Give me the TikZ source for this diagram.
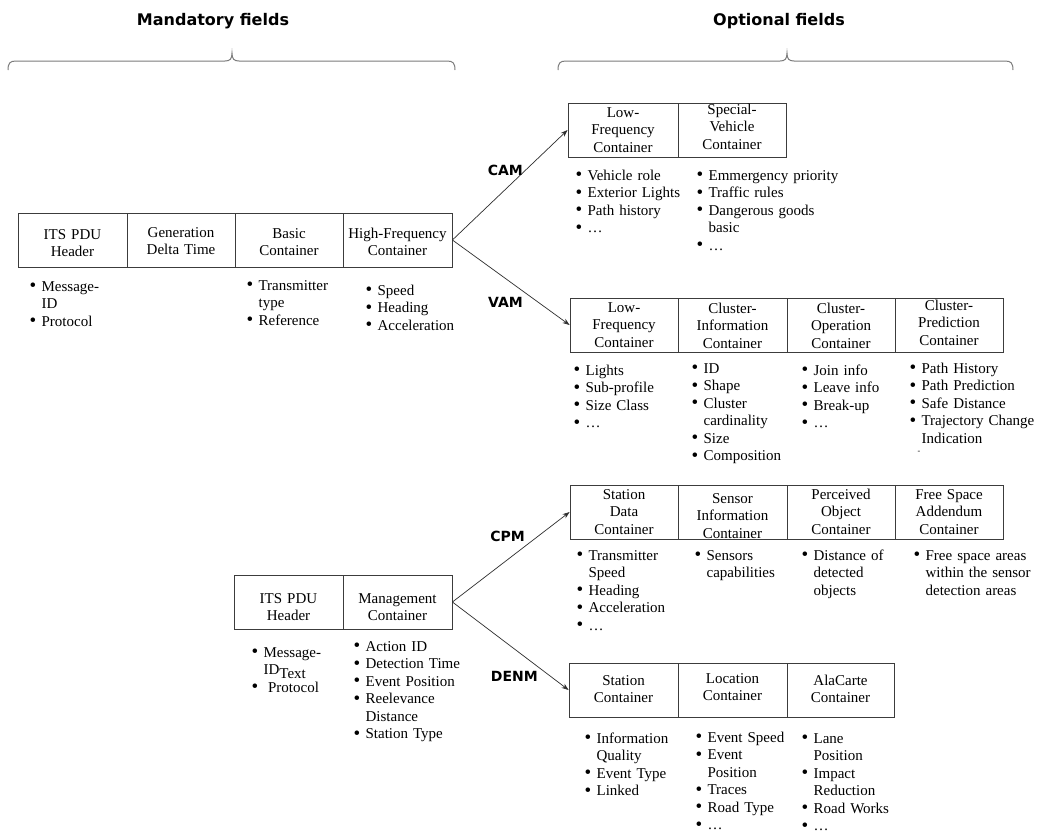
\documentclass[tikz,border=0pt]{standalone}
\usepackage{fontspec}
\setmainfont{Liberation Serif}
\newfontfamily\hdfont{DejaVu Sans}
\usetikzlibrary{arrows.meta}
\definecolor{boxgray}{HTML}{3C3C3C}
\definecolor{bracegray}{HTML}{7C7C7C}
\definecolor{arrowgray}{HTML}{2E2E2E}
\newcommand\bul{\raisebox{-0.6pt}{\fontsize{19}{17.5}\selectfont\textbullet}}
\newcommand\itm[1]{\hangindent=12pt\hangafter=1\rule{0pt}{12.25pt}\makebox[12pt][l]{\bul}#1\par}
\tikzset{
  bodyfont/.style={font=\fontsize{15}{17.5}\selectfont},
  cell/.style 2 args={draw=boxgray, line width=0.8pt, inner sep=0pt, align=center, bodyfont, text height=#1, text depth=#2},
  lst/.style={anchor=base west, inner sep=0pt, align=left, text width=#1, bodyfont},
  lst/.default=120pt,
  hd/.style={font=\hdfont\bfseries\fontsize{16}{19}\selectfont, inner sep=0pt, anchor=base},
  msg/.style={font=\hdfont\bfseries\fontsize{14}{17}\selectfont, inner sep=0pt, anchor=base east},
  arr/.style={draw=arrowgray, line width=0.7pt, -{Stealth[length=7pt,width=5pt]}},
  bracepath/.style={draw=bracegray, line width=1pt},
}
\begin{document}
\begin{tikzpicture}[x=1pt,y=-1pt]
\useasboundingbox (0,0) rectangle (1037,836);
\fill[white] (0,0) rectangle (1037,836);

% headers
\node[hd] (mand) at (213,25.5) {Mandatory fields};
\node[hd] (opt) at (779,25.5) {Optional fields};
\draw[bracepath] (8,70) .. controls (8,63) and (10,61) .. (16,61) -- (225,61)
  .. controls (230,61) and (232,59) .. (232,53) .. controls (232,59) and (234,61) .. (239,61)
  -- (447,61) .. controls (453,61) and (455,63) .. (455,70);
\draw[bracepath] (558,70) .. controls (558,63) and (560,61) .. (566,61) -- (780,61)
  .. controls (785,61) and (787,59) .. (787,53) .. controls (787,59) and (789,61) .. (794,61)
  -- (1005,61) .. controls (1011,61) and (1013,63) .. (1013,70);

% CAM / VAM common header row
\node[cell={26pt}{28pt}, minimum width=109pt, text width=107pt] (its1) at (72.5,240) {ITS PDU\\Header};
\node[cell={24pt}{30pt}, minimum width=108pt, text width=106pt] (gdt) at (181,240) {Generation\\Delta Time};
\node[cell={25pt}{29pt}, minimum width=108pt, text width=106pt] (bc) at (289,240) {Basic\\Container};
\node[cell={25pt}{29pt}, minimum width=109pt, text width=108pt] (hf) at (397.5,240) {High-Frequency\\Container};

\node[lst=90pt] (l1) at (29.4,291) {\itm{Message-\newline ID}\itm{Protocol}};
\node[lst=100pt] (l2) at (246.4,290) {\itm{Transmitter\newline type}\itm{Reference}};
\node[lst=90pt] (l3) at (365.4,295) {\itm{Speed}\itm{Heading}\itm{Acceleration}};

% CAM
\node[cell={14pt}{40pt}, minimum width=110pt, text width=108pt] (camlf) at (623,130) {Low-\\Frequency\\Container};
\node[cell={11pt}{43pt}, minimum width=108pt, text width=106pt] (camsv) at (732,130) {Special-\\Vehicle\\Container};
\node[lst=118pt] (cl1) at (575.4,180) {\itm{Vehicle role}\itm{Exterior Lights}\itm{Path history}\itm{…}};
\node[lst=150pt] (cl2) at (696.4,180) {\itm{Emmergency priority}\itm{Traffic rules}\itm{Dangerous goods\newline basic}\itm{…}};

% VAM
\node[cell={14pt}{40pt}, minimum width=108pt, text width=106pt] (vamlf) at (624,325) {Low-\\Frequency\\Container};
\node[cell={15pt}{39pt}, minimum width=109pt, text width=107pt] (vamci) at (732.5,325) {Cluster-\\Information\\Container};
\node[cell={15pt}{39pt}, minimum width=108pt, text width=106pt] (vamco) at (841,325) {Cluster-\\Operation\\Container};
\node[cell={12pt}{42pt}, minimum width=108pt, text width=106pt] (vamcp) at (949,325) {Cluster-\\Prediction\\Container};
\node[lst=110pt] (vl1) at (573.4,375) {\itm{Lights}\itm{Sub-profile}\itm{Size Class}\itm{…}};
\node[lst=105pt] (vl2) at (691.4,373) {\itm{ID}\itm{Shape}\itm{Cluster\newline cardinality}\itm{Size}\itm{Composition}};
\node[lst=100pt] (vl3) at (801.4,375) {\itm{Join info}\itm{Leave info}\itm{Break-up}\itm{…}};
\node[lst=127pt] (vl4) at (909.4,373) {\itm{Path History}\itm{Path Prediction}\itm{Safe Distance}\itm{Trajectory Change\newline Indication}};
\node[inner sep=0pt, font=\fontsize{8}{8}\selectfont] (stray) at (919,452) {-};

% CPM / DENM header row
\node[cell={28pt}{26pt}, minimum width=109pt, text width=107pt] (its2) at (288.5,602) {ITS PDU\\Header};
\node[cell={28pt}{26pt}, minimum width=109pt, text width=107pt] (mc) at (397.5,602) {Management\\Container};
\node[lst=95pt] (bl1) at (251.4,657) {\itm{Message-\newline ID\raisebox{-3.5pt}{Text}}\itm{\hspace{4.5pt}Protocol}};
\node[lst=120pt] (bl2) at (353.4,651) {\itm{Action ID}\itm{Detection Time}\itm{Event Position}\itm{Reelevance\newline Distance}\itm{Station Type}};

% CPM
\node[cell={14pt}{40pt}, minimum width=108pt, text width=106pt] (cpmsd) at (624,512) {Station\\Data\\Container};
\node[cell={18pt}{36pt}, minimum width=109pt, text width=107pt] (cpmsi) at (732.5,512) {Sensor\\Information\\Container};
\node[cell={14pt}{40pt}, minimum width=108pt, text width=106pt] (cpmpo) at (841,512) {Perceived\\Object\\Container};
\node[cell={14pt}{40pt}, minimum width=108pt, text width=106pt] (cpmfs) at (949,512) {Free Space\\Addendum\\Container};
\node[lst=110pt] (pl1) at (576.4,560) {\itm{Transmitter\newline Speed}\itm{Heading}\itm{Acceleration}\itm{…}};
\node[lst=100pt] (pl2) at (694.4,560) {\itm{Sensors\newline capabilities}};
\node[lst=105pt] (pl3) at (801.4,560) {\itm{Distance of\newline detected\newline objects}};
\node[lst=120pt] (pl4) at (913.4,560) {\itm{Free space areas\newline within the sensor\newline detection areas}};

% DENM
\node[cell={22pt}{32pt}, minimum width=109pt, text width=107pt] (densc) at (623.5,690) {Station\\Container};
\node[cell={20pt}{34pt}, minimum width=109pt, text width=107pt] (denlc) at (732.5,690) {Location\\Container};
\node[cell={22pt}{32pt}, minimum width=107pt, text width=105pt] (denac) at (840.5,690) {AlaCarte\\Container};
\node[lst=105pt] (dl1) at (584.4,743) {\itm{Information\newline Quality}\itm{Event Type}\itm{Linked}};
\node[lst=100pt] (dl2) at (695.4,742) {\itm{Event Speed}\itm{Event\newline Position}\itm{Traces}\itm{Road Type}\itm{…}};
\node[lst=100pt] (dl3) at (801.4,743) {\itm{Lane\newline Position}\itm{Impact\newline Reduction}\itm{Road Works}\itm{…}};

% connectors
\draw[arr] (hf.east) -- (camlf.west);
\draw[arr] (hf.east) -- (vamlf.west);
\draw[arr] (mc.east) -- (cpmsd.west);
\draw[arr] (mc.east) -- (densc.west);

% message labels
\node[msg] (cam) at (523,175) {CAM};
\node[msg] (vam) at (523,307) {VAM};
\node[msg] (cpm) at (525,541) {CPM};
\node[msg] (denm) at (538,681) {DENM};
\end{tikzpicture}
\end{document}
